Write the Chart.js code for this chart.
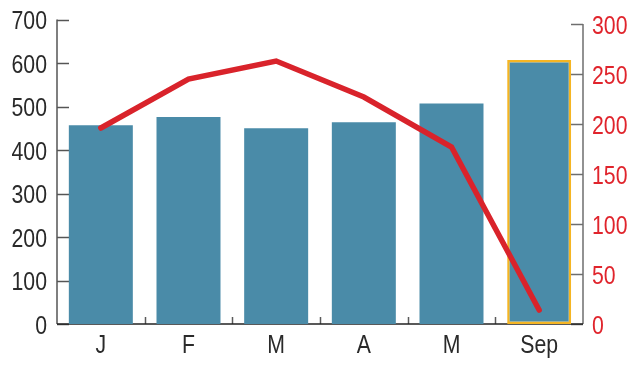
<!DOCTYPE html>
<html>
<head>
<meta charset="utf-8">
<script src="https://cdn.jsdelivr.net/npm/chart.js@4/dist/chart.umd.min.js"></script>
<style>
  html, body { margin: 0; padding: 0; background: #ffffff; }
  #wrap { width: 635px; height: 372px; position: relative; }
</style>
</head>
<body>
<div id="wrap"><canvas id="chart"></canvas></div>
<script>
// Monthly figures: bars on the left axis, line on the right axis
const months = ['J', 'F', 'M', 'A', 'M', 'Sep'];
const barValues = [457, 476, 450, 464, 507, 607];
const lineValues = [196, 245, 263, 227, 177, 14];
const leftTicks = [0, 100, 200, 300, 400, 500, 600, 700];
const rightTicks = [0, 50, 100, 150, 200, 250, 300];

const FONT = "'Liberation Sans', Arial, sans-serif";
const FONT_SIZE = 25;
const SQUEEZE = 0.85;          // horizontal condensing of label text
const TEXT_DARK = '#2a2a2a';
const TEXT_RED = '#e0242c';
const BAR_COLOR = '#4a8ba8';
const LINE_COLOR = '#d9232b';
const HIGHLIGHT = '#f5b523';

function condensedText(ctx, text, x, y, align) {
  ctx.save();
  ctx.translate(x, y);
  ctx.scale(SQUEEZE, 1);
  ctx.textAlign = align;
  ctx.fillText(text, 0, 0);
  ctx.restore();
}

// Axis lines and inward-pointing tick marks
const axisFrame = {
  id: 'axisFrame',
  beforeDatasetsDraw(chart) {
    const ctx = chart.ctx;
    const a = chart.chartArea;
    const yl = chart.scales.y;
    const yr = chart.scales.y2;
    const xs = chart.scales.x;
    ctx.save();
    ctx.lineCap = 'butt';

    // left axis
    ctx.strokeStyle = '#555555';
    ctx.lineWidth = 1.5;
    ctx.beginPath();
    ctx.moveTo(a.left, yl.getPixelForValue(0));
    ctx.lineTo(a.left, yl.getPixelForValue(leftTicks[leftTicks.length - 1]));
    ctx.stroke();
    leftTicks.forEach(v => {
      const y = Math.round(yl.getPixelForValue(v)) + 0.5;
      ctx.beginPath();
      ctx.moveTo(a.left, y);
      ctx.lineTo(a.left + 12, y);
      ctx.stroke();
    });

    // right axis
    ctx.strokeStyle = '#6e6e6e';
    ctx.beginPath();
    ctx.moveTo(a.right, yr.getPixelForValue(0));
    ctx.lineTo(a.right, yr.getPixelForValue(rightTicks[rightTicks.length - 1]));
    ctx.stroke();
    rightTicks.forEach(v => {
      const y = Math.round(yr.getPixelForValue(v)) + 0.5;
      ctx.beginPath();
      ctx.moveTo(a.right - 12, y);
      ctx.lineTo(a.right, y);
      ctx.stroke();
    });

    // category boundary ticks
    ctx.strokeStyle = '#5a5a5a';
    for (let i = 0; i < months.length - 1; i++) {
      const x = Math.round((xs.getPixelForTick(i) + xs.getPixelForTick(i + 1)) / 2) + 0.5;
      ctx.beginPath();
      ctx.moveTo(x, a.bottom);
      ctx.lineTo(x, a.bottom - 7);
      ctx.stroke();
    }

    // baseline
    ctx.strokeStyle = '#222222';
    ctx.lineWidth = 1.5;
    ctx.beginPath();
    ctx.moveTo(a.left, a.bottom);
    ctx.lineTo(a.right, a.bottom);
    ctx.stroke();
    ctx.restore();
  },
  // condensed tick labels
  afterDraw(chart) {
    const ctx = chart.ctx;
    const a = chart.chartArea;
    const yl = chart.scales.y;
    const yr = chart.scales.y2;
    const xs = chart.scales.x;
    ctx.save();
    ctx.font = FONT_SIZE + 'px ' + FONT;
    ctx.textBaseline = 'alphabetic';

    ctx.fillStyle = TEXT_DARK;
    leftTicks.forEach(v => {
      condensedText(ctx, String(v), a.left - 10, yl.getPixelForValue(v) + 9.5, 'right');
    });

    ctx.fillStyle = TEXT_RED;
    rightTicks.forEach(v => {
      condensedText(ctx, String(v), a.right + 9, yr.getPixelForValue(v) + 9.5, 'left');
    });

    ctx.fillStyle = TEXT_DARK;
    months.forEach((m, i) => {
      condensedText(ctx, m, xs.getPixelForTick(i), a.bottom + 28.5, 'center');
    });
    ctx.restore();
  }
};

new Chart(document.getElementById('chart'), {
  data: {
    labels: months,
    datasets: [
      {
        type: 'line',
        data: lineValues,
        yAxisID: 'y2',
        order: 0,
        borderColor: LINE_COLOR,
        borderWidth: 5.5,
        borderCapStyle: 'round',
        borderJoinStyle: 'miter',
        pointRadius: 0,
        tension: 0,
        fill: false
      },
      {
        type: 'bar',
        data: barValues,
        yAxisID: 'y',
        order: 1,
        backgroundColor: BAR_COLOR,
        borderColor: months.map((m, i) => i === months.length - 1 ? HIGHLIGHT : 'rgba(0,0,0,0)'),
        borderWidth: months.map((m, i) => i === months.length - 1 ? 2.5 : 0),
        borderSkipped: false,
        categoryPercentage: 1,
        barPercentage: 0.73
      }
    ]
  },
  options: {
    responsive: true,
    maintainAspectRatio: false,
    animation: false,
    events: [],
    layout: { padding: { top: 19.5, left: 0, right: 0, bottom: 0 } },
    plugins: { legend: { display: false }, tooltip: { enabled: false } },
    scales: {
      x: {
        grid: { display: false, drawTicks: false },
        border: { display: false },
        ticks: { display: false },
        afterFit(s) { s.height = 48; }
      },
      y: {
        position: 'left',
        min: 0,
        max: 700,
        grid: { display: false, drawTicks: false },
        border: { display: false },
        afterBuildTicks(s) { s.ticks = leftTicks.map(v => ({ value: v })); },
        ticks: { display: false },
        afterFit(s) { s.width = 57; }
      },
      y2: {
        position: 'right',
        min: 0,
        max: 304.5,
        grid: { display: false, drawTicks: false },
        border: { display: false },
        afterBuildTicks(s) { s.ticks = rightTicks.map(v => ({ value: v })); },
        ticks: { display: false },
        afterFit(s) { s.width = 52; }
      }
    }
  },
  plugins: [axisFrame]
});
</script>
</body>
</html>
